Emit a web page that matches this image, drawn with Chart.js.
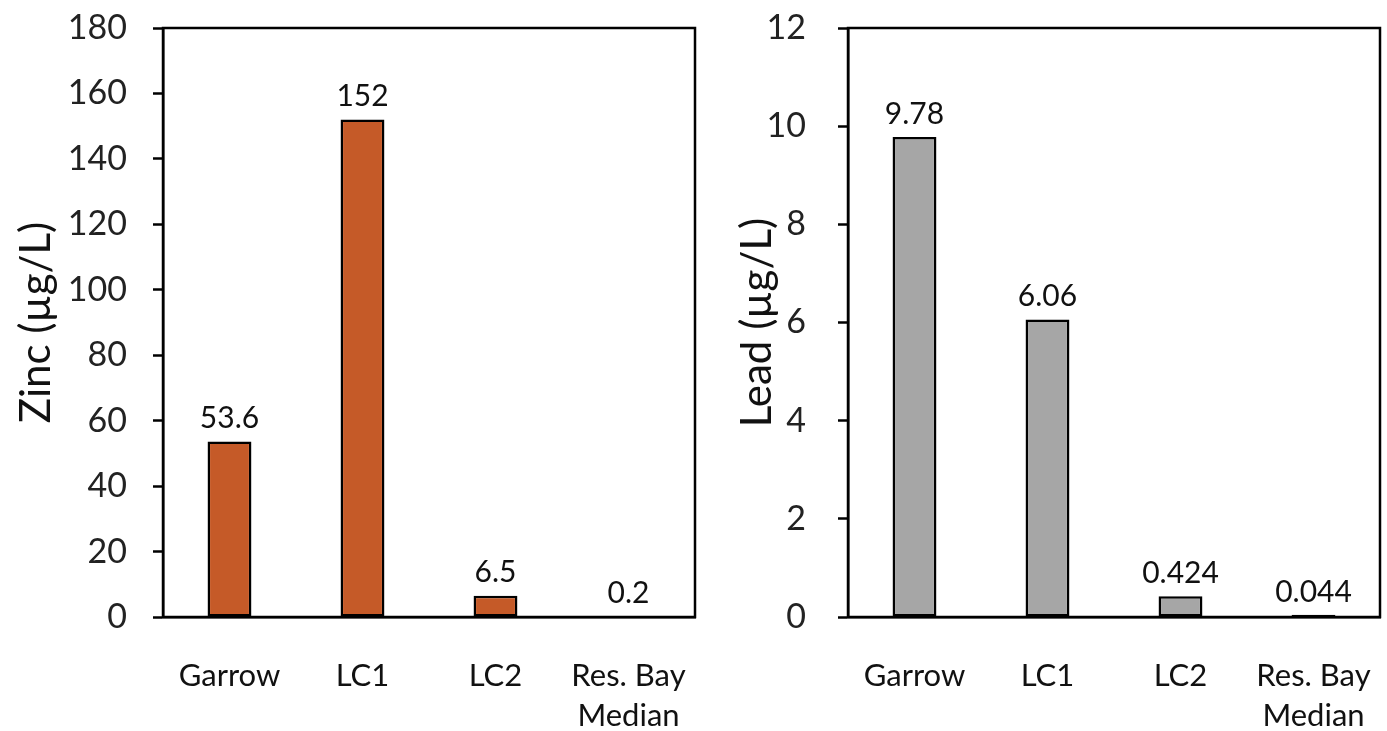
<!DOCTYPE html>
<html><head><meta charset="utf-8">
<script src="https://cdn.jsdelivr.net/npm/chart.js@4/dist/chart.umd.min.js"></script>
<style>
html,body{margin:0;padding:0;background:#fff;width:1387px;height:731px;overflow:hidden}
.box{position:absolute;top:0;height:731px}
#b1{left:0;width:700px}
#b2{left:690px;width:697px}
</style></head><body>
<div class="box" id="b1"><canvas id="c1"></canvas></div>
<div class="box" id="b2"><canvas id="c2"></canvas></div>
<script>
const categories = [["Garrow"], ["LC1"], ["LC2"], ["Res. Bay", "Median"]];
const zincValues = [53.6, 152, 6.5, 0.2];
const leadValues = [9.78, 6.06, 0.424, 0.044];
const zincTicks = {min: 0, max: 180, step: 20};
const leadTicks = {min: 0, max: 12, step: 2};

const FONT = "Lato, 'Open Sans', sans-serif";

const frame = {
  id: 'frame',
  afterDatasetsDraw(chart) {
    const a = chart.chartArea, ctx = chart.ctx;
    ctx.save();
    ctx.strokeStyle = '#000';
    ctx.lineWidth = 2.5;
    ctx.strokeRect(a.left, a.top, a.right - a.left, a.bottom - a.top);
    ctx.restore();
  }
};
const valueLabels = {
  id: 'valueLabels',
  afterDatasetsDraw(chart) {
    const ctx = chart.ctx;
    ctx.save();
    ctx.font = '30px ' + FONT;
    ctx.fillStyle = '#111';
    ctx.textAlign = 'center';
    ctx.textBaseline = 'bottom';
    chart.data.datasets.forEach((ds, i) => {
      chart.getDatasetMeta(i).data.forEach((el, j) => {
        ctx.fillText(String(ds.data[j]), el.x, el.y - 8);
      });
    });
    ctx.restore();
  }
};

function make(id, values, ticks, title, color, axisW, titlePad, tickPad, padRight) {
  return new Chart(document.getElementById(id), {
    type: 'bar',
    data: {labels: categories, datasets: [{data: values, backgroundColor: color,
      borderColor: '#000', borderWidth: 2.5, borderSkipped: false,
      barPercentage: 0.33, categoryPercentage: 1}]},
    options: {
      responsive: true, maintainAspectRatio: false, animation: false,
      layout: {padding: {top: 28, right: padRight, left: 0, bottom: 0}},
      plugins: {legend: {display: false}, tooltip: {enabled: false}},
      scales: {
        x: {
          grid: {display: false},
          border: {display: true, color: '#000', width: 2.5},
          ticks: {color: '#111', font: {size: 31, family: FONT, lineHeight: 1.3}, padding: 31, maxRotation: 0, autoSkip: false},
          afterFit(s) { s.height = 114; s.paddingLeft = 0; s.paddingRight = 0; }
        },
        y: {
          min: ticks.min, max: ticks.max,
          grid: {display: true, drawOnChartArea: false, drawTicks: true, tickLength: 10, tickColor: '#000', tickWidth: 2.5},
          border: {display: true, color: '#000', width: 2.5},
          ticks: {stepSize: ticks.step, color: '#222', font: {size: 34, family: FONT}, padding: tickPad},
          title: {display: true, text: title, color: '#111', font: {size: 42, family: FONT}, padding: {top: titlePad, bottom: 0}},
          afterFit(s) { s.width = axisW; s.paddingTop = 0; s.paddingBottom = 0; }
        }
      }
    },
    plugins: [frame, valueLabels]
  });
}
make('c1', zincValues, zincTicks, 'Zinc (µg/L)', '#C55A28', 163, 11, 26, 5);
make('c2', leadValues, leadTicks, 'Lead (µg/L)', '#A6A6A6', 158, 42, 32, 7);
</script>
</body></html>
